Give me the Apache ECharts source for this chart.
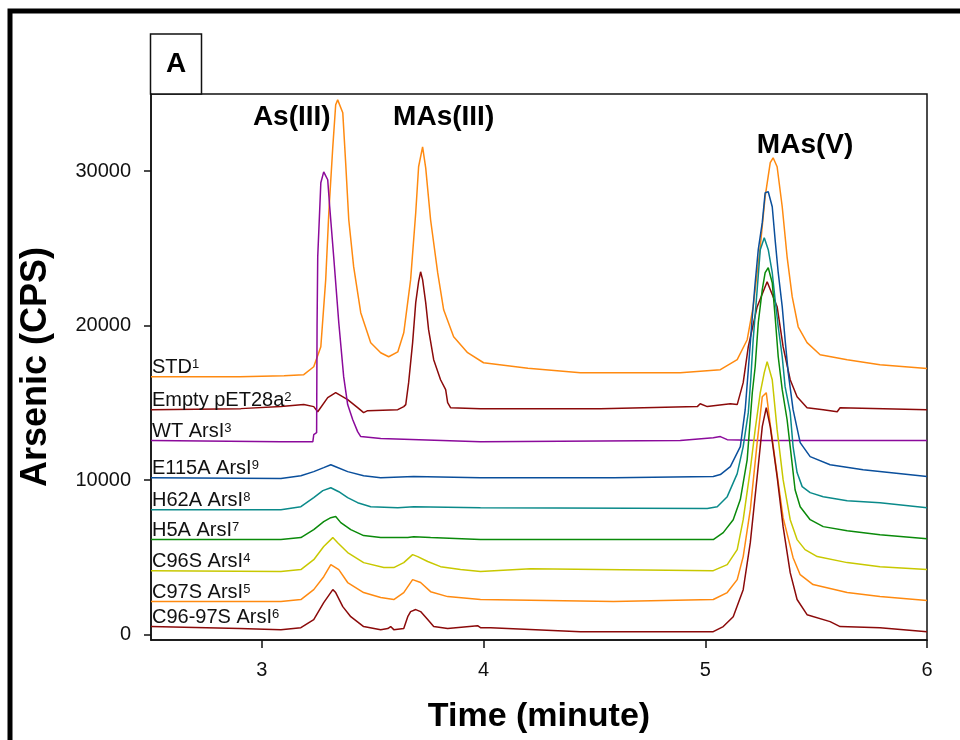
<!DOCTYPE html>
<html>
<head>
<meta charset="utf-8">
<script src="https://cdn.jsdelivr.net/npm/echarts@6/dist/echarts.min.js"></script>
<style>
html,body{margin:0;padding:0;background:#fff;}
#chart{width:960px;height:740px;}
</style>
</head>
<body>
<div id="chart"></div>
<script>
// ---- data (time in minutes, signal in CPS) ----
const xTicks = [3, 4, 5, 6];
const yTicks = [0, 10000, 20000, 30000];

const seriesNames = ['STD', 'Empty pET28a', 'WT ArsI', 'E115A ArsI', 'H62A ArsI', 'H5A ArsI', 'C96S ArsI', 'C97S ArsI', 'C96-97S ArsI'];
const seriesSup = ['1', '2', '3', '9', '8', '7', '4', '5', '6'];

const STD = [[2.5,16700],[2.9,16700],[3.1,16760],[3.189,16830],[3.234,17340],[3.266,18640],[3.288,22980],[3.302,27310],[3.320,31580],[3.333,34300],[3.342,34620],[3.365,33780],[3.378,30550],[3.392,26860],[3.414,23820],[3.446,20840],[3.491,18900],[3.536,18250],[3.572,17990],[3.613,18300],[3.640,19540],[3.671,22980],[3.694,27310],[3.707,30290],[3.725,31580],[3.739,30220],[3.761,26860],[3.793,23430],[3.820,21030],[3.865,19290],[3.928,18250],[4.000,17600],[4.2,17250],[4.437,16960],[4.887,16960],[5.068,17150],[5.144,17800],[5.189,19090],[5.216,21230],[5.248,25110],[5.270,28350],[5.293,30550],[5.306,30870],[5.324,30290],[5.347,27700],[5.369,24460],[5.392,21880],[5.419,19930],[5.459,18900],[5.518,18120],[5.640,17800],[5.788,17470],[6.000,17220]];

const EMPTY = [[2.5,14560],[2.905,14630],[3.086,14760],[3.189,14890],[3.234,14760],[3.252,14430],[3.297,15340],[3.333,15660],[3.387,15210],[3.432,14690],[3.459,14370],[3.477,14500],[3.613,14560],[3.640,14760],[3.649,14890],[3.662,16310],[3.680,18900],[3.694,21490],[3.707,22850],[3.716,23490],[3.725,22980],[3.739,21490],[3.752,19740],[3.775,17800],[3.806,16500],[3.829,15860],[3.838,15020],[3.851,14690],[3.986,14630],[4.527,14630],[4.964,14760],[4.977,14950],[5.009,14760],[5.113,14950],[5.144,14890],[5.171,16310],[5.194,18640],[5.234,21230],[5.279,22850],[5.324,21230],[5.351,18640],[5.383,16500],[5.414,15400],[5.459,14690],[5.532,14560],[5.595,14430],[5.608,14690],[6.0,14560]];

const WT = [[2.5,12560],[3.086,12490],[3.230,12490],[3.234,12940],[3.247,13070],[3.249,20000],[3.252,24460],[3.266,29250],[3.279,29960],[3.297,29450],[3.306,27700],[3.324,24460],[3.347,20190],[3.369,16700],[3.387,14890],[3.410,13910],[3.432,13140],[3.446,12820],[3.536,12690],[3.986,12490],[4.887,12560],[5.036,12750],[5.068,12820],[5.099,12620],[5.248,12560],[6.0,12560]];

const E115A = [[2.5,10160],[3.086,10100],[3.176,10290],[3.234,10550],[3.279,10810],[3.311,11000],[3.333,10870],[3.387,10550],[3.459,10290],[3.536,10160],[3.685,10230],[3.986,10160],[4.586,10160],[5.036,10230],[5.068,10360],[5.113,10870],[5.158,12170],[5.180,14560],[5.194,17150],[5.212,20580],[5.225,22780],[5.239,24920],[5.257,26670],[5.270,28610],[5.284,28670],[5.302,27700],[5.315,25560],[5.329,23430],[5.347,21230],[5.360,19090],[5.374,16960],[5.396,14560],[5.428,12430],[5.473,11520],[5.563,11000],[5.712,10680],[6.0,10230]];

const H62A = [[2.5,8090],[3.086,8090],[3.176,8280],[3.234,8870],[3.275,9320],[3.311,9510],[3.347,9250],[3.387,8870],[3.432,8540],[3.491,8280],[3.613,8220],[3.685,8280],[3.986,8220],[5.009,8160],[5.054,8280],[5.099,8930],[5.144,10420],[5.171,12170],[5.194,14370],[5.205,16500],[5.216,19090],[5.234,22330],[5.248,24920],[5.266,25690],[5.284,24920],[5.302,23430],[5.315,21680],[5.329,19930],[5.347,17990],[5.360,16050],[5.383,14370],[5.396,12170],[5.414,10490],[5.437,9580],[5.473,9190],[5.532,8930],[5.640,8670],[5.788,8540],[6.0,8220]];

const H5A = [[2.5,6150],[3.086,6150],[3.176,6280],[3.234,6800],[3.279,7310],[3.311,7570],[3.333,7640],[3.356,7250],[3.401,6800],[3.459,6410],[3.536,6280],[3.658,6280],[3.685,6340],[3.761,6280],[3.986,6150],[5.036,6150],[5.081,6600],[5.126,7440],[5.158,8740],[5.189,11330],[5.212,15660],[5.225,17340],[5.239,20190],[5.257,22330],[5.270,23430],[5.284,23750],[5.302,22780],[5.315,20580],[5.329,17990],[5.347,15860],[5.369,13910],[5.383,12170],[5.405,9380],[5.428,8280],[5.473,7440],[5.532,6990],[5.640,6730],[5.788,6470],[6.0,6210]];

const C96S = [[2.5,4140],[3.086,4080],[3.176,4210],[3.234,4850],[3.279,5700],[3.320,6280],[3.342,5950],[3.387,5310],[3.459,4660],[3.550,4340],[3.595,4340],[3.640,4660],[3.680,5180],[3.703,5050],[3.748,4730],[3.806,4400],[3.896,4210],[3.986,4080],[4.212,4270],[5.036,4140],[5.099,4530],[5.144,5500],[5.171,7440],[5.203,10680],[5.225,13270],[5.248,15660],[5.266,16960],[5.279,17670],[5.302,16500],[5.324,13270],[5.351,10030],[5.383,7440],[5.414,6150],[5.450,5500],[5.505,5050],[5.640,4660],[5.788,4400],[6.0,4210]];

const C97S = [[2.5,2140],[3.086,2140],[3.176,2270],[3.234,2910],[3.279,3750],[3.311,4530],[3.347,4210],[3.387,3370],[3.459,2720],[3.536,2400],[3.595,2270],[3.640,2720],[3.680,3560],[3.716,3370],[3.761,2780],[3.838,2460],[3.986,2270],[4.586,2140],[5.036,2270],[5.099,2720],[5.144,3560],[5.171,5050],[5.203,8090],[5.234,12430],[5.257,15400],[5.275,15660],[5.293,13590],[5.324,10360],[5.351,7570],[5.396,4980],[5.428,3880],[5.486,3240],[5.640,2720],[5.788,2460],[6.0,2200]];

const C9697S = [[2.5,520],[2.9,390],[3.086,320],[3.176,450],[3.234,970],[3.279,2070],[3.320,2910],[3.333,2720],[3.365,1810],[3.401,1160],[3.459,520],[3.536,320],[3.568,390],[3.581,520],[3.595,320],[3.640,390],[3.658,1160],[3.671,1490],[3.694,1620],[3.716,1490],[3.748,970],[3.775,520],[3.838,390],[3.973,580],[3.986,450],[4.032,450],[4.437,190],[5.036,190],[5.081,520],[5.126,1160],[5.171,2910],[5.203,5950],[5.234,10230],[5.257,13460],[5.275,14690],[5.293,13460],[5.324,10230],[5.351,6990],[5.383,4010],[5.414,2270],[5.459,1290],[5.563,840],[5.608,520],[5.788,450],[6.0,190]];

const seriesData = [STD, EMPTY, WT, E115A, H62A, H5A, C96S, C97S, C9697S];

const peakNames = ['As(III)', 'MAs(III)', 'MAs(V)'];
const peakTimes = [3.135, 3.82, 5.45];
const peakLabelY = [33500, 33500, 31700];

// ---- styles ----
const colors = ['#ff8a10', '#8b0a0a', '#8b0a9b', '#0a4f9c', '#0a8a8a', '#0a8a0a', '#c8c800', '#ff8a10', '#8b0a0a'];
const FONT = "'Liberation Sans', Arial, sans-serif";

const chart = echarts.init(document.getElementById('chart'), null, {renderer: 'canvas'});

const lineSeries = seriesData.map((d, i) => ({
  type: 'line',
  name: seriesNames[i],
  data: d,
  showSymbol: false,
  symbol: 'none',
  smooth: false,
  animation: false,
  z: 2,
  lineStyle: {color: colors[i], width: 1.5},
  markPoint: {
    symbol: 'circle',
    symbolSize: 0,
    silent: true,
    animation: false,
    data: [{coord: d[0], name: seriesNames[i]}],
    label: {
      show: true,
      position: 'right',
      distance: 1,
      offset: [0, -9],
      formatter: () => '{n|' + seriesNames[i] + '}{s|' + seriesSup[i] + '}',
      rich: {
        n: {fontFamily: FONT, fontSize: 20, color: '#111'},
        s: {fontFamily: FONT, fontSize: 13, color: '#111', verticalAlign: 'top'}
      }
    }
  }
}));

const annoSeries = {
  type: 'scatter',
  symbolSize: 0,
  silent: true,
  animation: false,
  z: 5,
  itemStyle: {opacity: 1},
  data: peakNames.map((n, i) => ({value: [peakTimes[i], peakLabelY[i]], name: n})),
  label: {
    show: true,
    position: 'inside',
    formatter: p => p.name,
    fontFamily: FONT,
    fontWeight: 'bold',
    fontSize: 28,
    color: '#000',
    opacity: 1
  }
};

chart.setOption({
  backgroundColor: '#fff',
  animation: false,
  grid: {
    left: 151, right: 33, top: 94, bottom: 100,
    show: true, borderColor: '#111', borderWidth: 1.5, backgroundColor: 'transparent'
  },
  xAxis: {
    type: 'value',
    min: 2.5, max: 6,
    name: 'Time (minute)',
    nameLocation: 'middle',
    nameGap: 60,
    nameTextStyle: {fontFamily: FONT, fontWeight: 'bold', fontSize: 34, color: '#000'},
    axisLine: {show: true, onZero: false, lineStyle: {color: '#111', width: 1.5}},
    axisTick: {show: true, inside: false, length: 8, customValues: xTicks, lineStyle: {color: '#111', width: 1.5}},
    axisLabel: {show: true, customValues: xTicks, margin: 20, fontFamily: FONT, fontSize: 20, color: '#111'},
    splitLine: {show: false}
  },
  yAxis: {
    type: 'value',
    min: -350, max: 35000,
    name: 'Arsenic (CPS)',
    nameLocation: 'middle',
    nameGap: 97,
    nameRotate: 90,
    nameTextStyle: {fontFamily: FONT, fontWeight: 'bold', fontSize: 36, color: '#000'},
    axisLine: {show: true, onZero: false, lineStyle: {color: '#111', width: 1.5}},
    axisTick: {show: true, inside: false, length: 7, customValues: yTicks, lineStyle: {color: '#111', width: 1.5}},
    axisLabel: {show: true, customValues: yTicks, margin: 20, fontFamily: FONT, fontSize: 20, color: '#111', formatter: v => String(v)},
    splitLine: {show: false}
  },
  graphic: [
    {type: 'polyline', silent: true, shape: {points: [[10, 740], [10, 11], [960, 11]]}, style: {stroke: '#000', lineWidth: 5, fill: null}},
    {type: 'rect', silent: true, shape: {x: 150.5, y: 34, width: 51, height: 60}, style: {stroke: '#111', lineWidth: 1.5, fill: '#fff'}},
    {type: 'text', silent: true, x: 176, y: 64, style: {text: 'A', fontFamily: FONT, fontWeight: 'bold', fontSize: 28, fill: '#000', align: 'center', verticalAlign: 'middle'}}
  ],
  series: lineSeries.concat([annoSeries])
});
</script>
</body>
</html>
